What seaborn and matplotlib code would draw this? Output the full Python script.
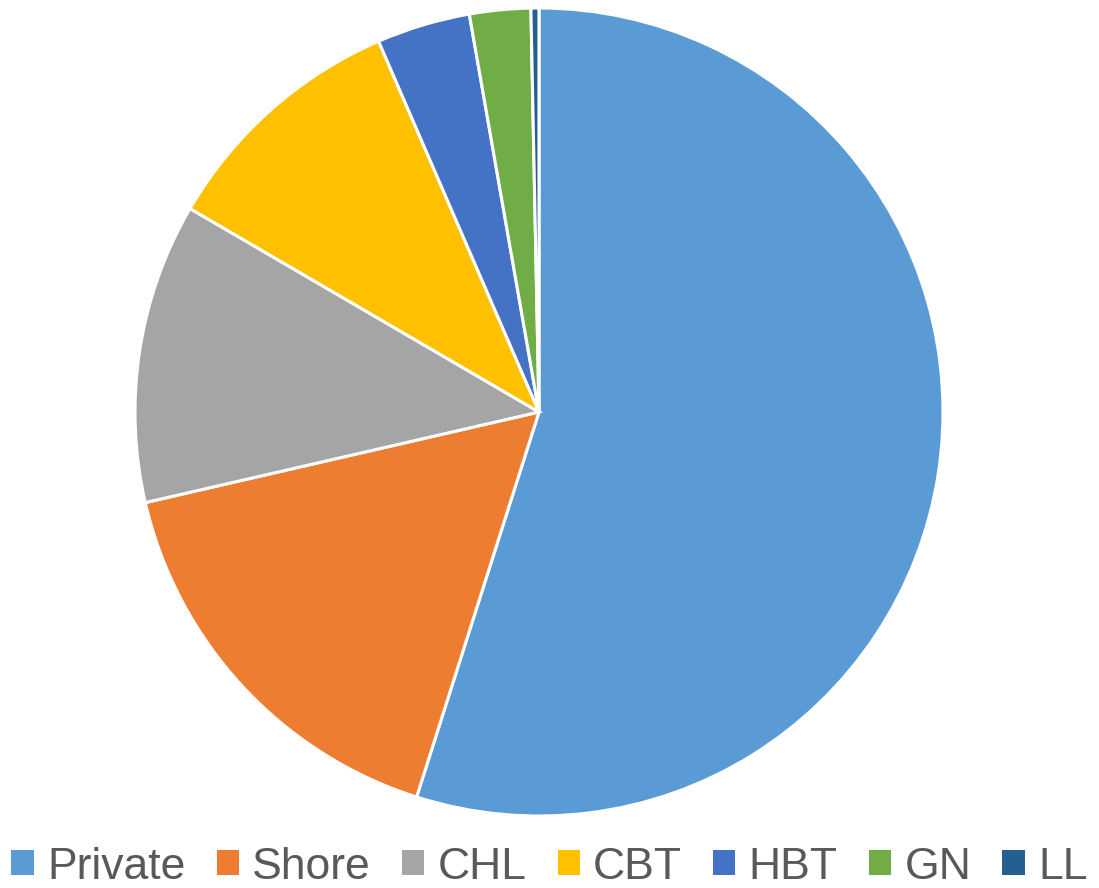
import matplotlib
matplotlib.use("Agg")
import matplotlib.pyplot as plt
import seaborn as sns
from matplotlib.patches import Patch

# slice shares (percent)
labels = ["Private", "Shore", "CHL", "CBT", "HBT", "GN", "LL"]
values = [54.9, 16.5, 12.0, 10.1, 3.74, 2.44, 0.32]
colors = ["#5B9BD5", "#ED7D31", "#A5A5A5", "#FFC000", "#4472C4", "#70AD47", "#255E91"]

sns.set_theme(style="white")
plt.rcParams['font.family'] = ['Liberation Sans', 'DejaVu Sans']

W, H = 1099, 888
fig = plt.figure(figsize=(W / 100, H / 100), dpi=100)

cx, cy, r = 539, 412, 404
ax = fig.add_axes([(cx - r) / W, (H - cy - r) / H, 2 * r / W, 2 * r / H])
palette = sns.color_palette(colors)
ax.pie(values, colors=palette, startangle=90, counterclock=False, radius=1,
       wedgeprops=dict(edgecolor="white", linewidth=2.2))
ax.set_xlim(-1, 1)
ax.set_ylim(-1, 1)
ax.set_aspect("equal")
ax.axis("off")

handles = [Patch(facecolor=c, edgecolor="none") for c in palette]
leg = fig.legend(handles, labels, loc="center", bbox_to_anchor=(0.5, 21 / H),
                 ncol=len(labels), frameon=False, fontsize=32,
                 handlelength=0.5, handleheight=0.5, handletextpad=0.3,
                 columnspacing=0.7, labelcolor="#595959")

fig.savefig("out.png", dpi=100)
plt.close(fig)
